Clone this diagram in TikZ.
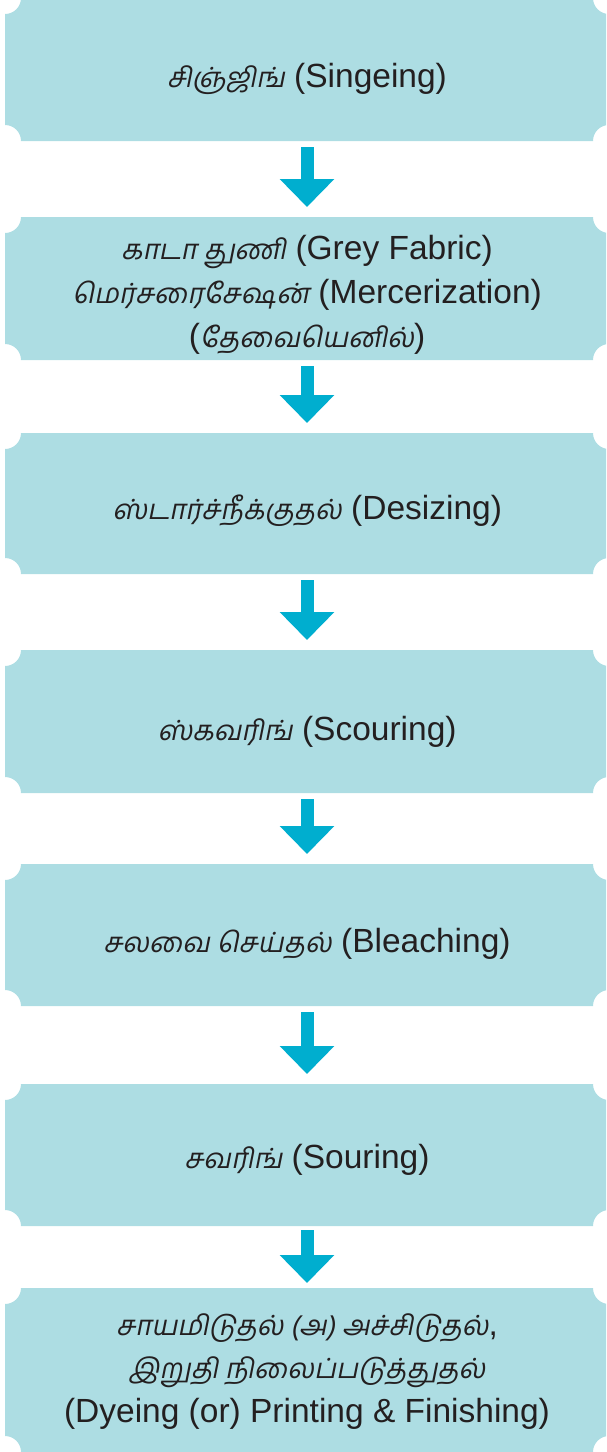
\documentclass[tikz,border=0pt]{standalone}
\usepackage{fontspec}
\setmainfont{Liberation Sans}
\newfontfamily\tamfont[Script=Tamil,FakeSlant=0.2,Scale=0.83]{Hind Madurai}
\usetikzlibrary{arrows.meta}
\definecolor{boxfill}{HTML}{ADDDE3}
\definecolor{arrowcol}{HTML}{00AECF}
\definecolor{txtcol}{HTML}{231F20}
\newcommand\tml[1]{{\tamfont #1}}
\newcommand\notchbox[1]{%
  \fill[boxfill] ([xshift=16pt]#1.north west) -- ([xshift=-16pt]#1.north east)
    arc[start angle=180,end angle=270,radius=16pt] -- ([yshift=16pt]#1.south east)
    arc[start angle=90,end angle=180,radius=16pt] -- ([xshift=16pt]#1.south west)
    arc[start angle=0,end angle=90,radius=16pt] -- ([yshift=-16pt]#1.north west)
    arc[start angle=270,end angle=360,radius=16pt] -- cycle;}
\tikzset{
  stage/.style={rectangle,inner sep=0pt,outer sep=0pt,minimum width=604pt},
  lbl/.style={anchor=base,inner sep=0pt,text=txtcol,font=\fontsize{33.5}{40}\selectfont},
  flow/.style={draw=arrowcol,line width=13pt,-{Triangle[width=53pt,length=28pt]}}
}
\begin{document}
\begin{tikzpicture}
\useasboundingbox (0pt,0pt) rectangle (606pt,-1452pt);
\clip (0pt,0pt) rectangle (606pt,-1452pt);
\node[stage,minimum height=143pt] (b1) at (307pt,-69.5pt) {};
\node[stage,minimum height=143pt] (b2) at (307pt,-288.5pt) {};
\node[stage,minimum height=141pt] (b3) at (307pt,-503.5pt) {};
\node[stage,minimum height=143pt] (b4) at (307pt,-721.5pt) {};
\node[stage,minimum height=142pt] (b5) at (307pt,-935pt) {};
\node[stage,minimum height=142pt] (b6) at (307pt,-1155pt) {};
\node[stage,minimum height=164pt] (b7) at (307pt,-1370pt) {};
\notchbox{b1}\notchbox{b2}\notchbox{b3}\notchbox{b4}\notchbox{b5}\notchbox{b6}\notchbox{b7}
\node[lbl] (t1) at (307pt,-87pt) {\tml{சிஞ்ஜிங்} (Singeing)};
\node[lbl] (t2a) at (307pt,-259pt) {\tml{காடா துணி} (Grey Fabric)};
\node[lbl] (t2b) at (307pt,-303pt) {\tml{மெர்சரைசேஷன்} (Mercerization)};
\node[lbl] (t2c) at (307pt,-347pt) {(\tml{தேவையெனில்})};
\node[lbl] (t3) at (307pt,-519pt) {\tml{ஸ்டார்ச்நீக்குதல்} (Desizing)};
\node[lbl] (t4) at (307pt,-740pt) {\tml{ஸ்கவரிங்} (Scouring)};
\node[lbl] (t5) at (307pt,-952pt) {\tml{சலவை செய்தல்} (Bleaching)};
\node[lbl] (t6) at (307pt,-1168pt) {\tml{சவரிங்} (Souring)};
\node[lbl] (t7a) at (307pt,-1335pt) {\tml{சாயமிடுதல் (அ) அச்சிடுதல்},};
\node[lbl] (t7b) at (307pt,-1378pt) {\tml{இறுதி நிலைப்படுத்துதல்}};
\node[lbl] (t7c) at (307pt,-1422pt) {(Dyeing (or) Printing \& Finishing)};
\draw[flow] ([yshift=-6pt]b1.south) -- ([yshift=10pt]b2.north);
\draw[flow] ([yshift=-6pt]b2.south) -- ([yshift=10pt]b3.north);
\draw[flow] ([yshift=-6pt]b3.south) -- ([yshift=10pt]b4.north);
\draw[flow] ([yshift=-6pt]b4.south) -- ([yshift=10pt]b5.north);
\draw[flow] ([yshift=-6pt]b5.south) -- ([yshift=10pt]b6.north);
\draw[flow] ([yshift=-4pt]b6.south) -- ([yshift=5pt]b7.north);
\end{tikzpicture}
\end{document}
